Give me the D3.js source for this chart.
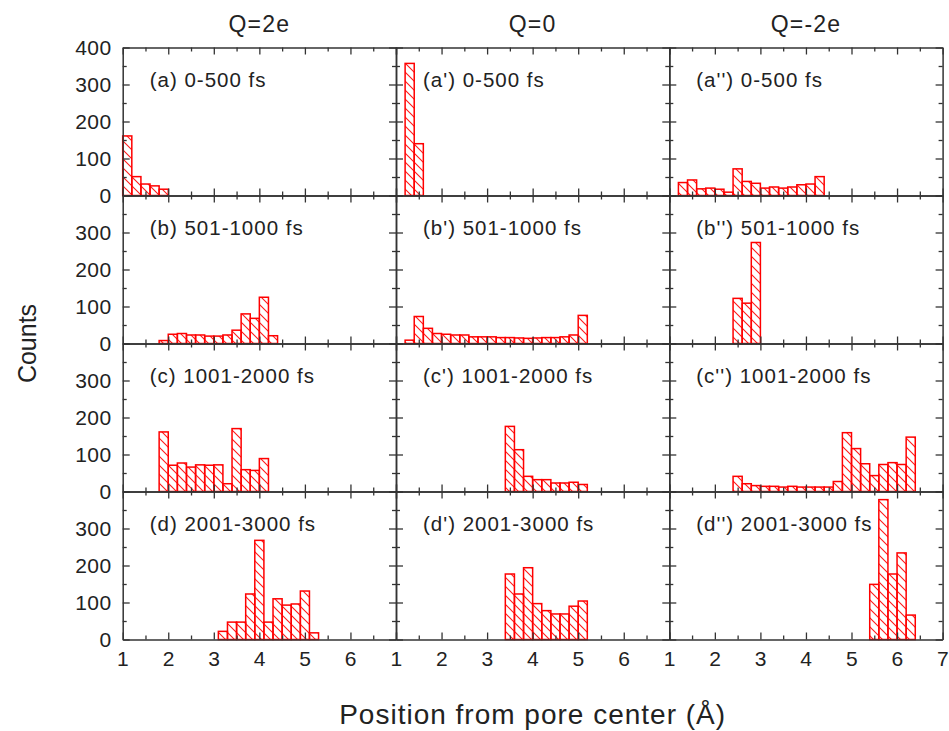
<!DOCTYPE html>
<html>
<head>
<meta charset="utf-8">
<script src="https://cdn.jsdelivr.net/npm/d3@7"></script>
<style>
  body { margin: 0; background: #fff; }
  text { font-family: Arial, "Liberation Sans", sans-serif; fill: #222; }
  .frame path.domain { stroke: #333; stroke-width: 1.5; }
  .frame line { stroke: #333; stroke-width: 1.3; }
  .frame text { font-size: 21px; letter-spacing: 0.5px; }
</style>
</head>
<body>
<div id="chart"></div>
<script>
// column headers and row labels
var colTitles = ["Q=2e", "Q=0", "Q=-2e"];
var rowTimes = ["0-500 fs", "501-1000 fs", "1001-2000 fs", "2001-3000 fs"];
var rowLetters = ["a", "b", "c", "d"];
var primes = ["", "'", "''"];

// histogram bin width (Å) and the left edge of the first bin in each panel
var binWidth = 0.2;
var binStarts = [
  [1.0, 1.2, 1.2],
  [1.8, 1.2, 2.4],
  [1.8, 3.4, 2.4],
  [3.1, 3.4, 5.4]
];

// counts, one array per panel
var countsA  = [161, 51, 31, 26, 17];
var countsA1 = [357, 140];
var countsA2 = [35, 42, 18, 20, 17, 9, 72, 38, 33, 20, 23, 20, 23, 29, 31, 51];
var countsB  = [8, 25, 27, 23, 23, 20, 20, 23, 36, 80, 68, 125, 21];
var countsB1 = [9, 73, 41, 27, 25, 23, 23, 18, 18, 18, 16, 16, 15, 14, 15, 16, 16, 18, 23, 76];
var countsB2 = [122, 109, 273];
var countsC  = [161, 71, 77, 66, 72, 71, 72, 21, 170, 59, 57, 89];
var countsC1 = [176, 113, 41, 32, 32, 23, 23, 25, 19];
var countsC2 = [41, 21, 16, 14, 14, 12, 14, 12, 12, 12, 12, 27, 159, 116, 75, 43, 73, 78, 73, 147];
var countsD  = [22, 47, 47, 123, 268, 47, 110, 93, 96, 131, 18];
var countsD1 = [177, 123, 194, 97, 78, 69, 69, 90, 104];
var countsD2 = [149, 378, 177, 234, 66];

var panelCounts = [
  [countsA, countsA1, countsA2],
  [countsB, countsB1, countsB2],
  [countsC, countsC1, countsC2],
  [countsD, countsD1, countsD2]
];

// tick values
var xMajor = [1, 2, 3, 4, 5, 6, 7];
var xMinor = [1.5, 2.5, 3.5, 4.5, 5.5, 6.5];
var yMajor = [0, 100, 200, 300, 400];
var yMinor = [50, 150, 250, 350];

// layout
var width = 949, height = 731;
var plotLeft = 122.7, plotTop = 47.5;
var colW = 273.3, rowH = 148;

var svg = d3.select("#chart").append("svg")
  .attr("width", width)
  .attr("height", height);

// diagonal hatch fill
var pat = svg.append("defs").append("pattern")
  .attr("id", "hatch")
  .attr("patternUnits", "userSpaceOnUse")
  .attr("width", 9)
  .attr("height", 9);
pat.append("path")
  .attr("d", "M0,0 L9,9 M-2,7 L2,11 M7,-2 L11,2")
  .attr("stroke", "#ff1a1a")
  .attr("stroke-width", 1.1);

rowTimes.forEach(function(time, r) {
  colTitles.forEach(function(title, c) {
    var x = d3.scaleLinear().domain([1, 7]).range([plotLeft + c * colW, plotLeft + (c + 1) * colW]);
    var y = d3.scaleLinear().domain([0, 400]).range([plotTop + (r + 1) * rowH, plotTop + r * rowH]);

    var g = svg.append("g");

    // bars
    var start = binStarts[r][c];
    var bins = panelCounts[r][c].map(function(v, i) {
      return { x0: start + i * binWidth, x1: start + (i + 1) * binWidth, value: v };
    });

    g.selectAll(".bar")
      .data(bins)
      .enter().append("rect")
      .attr("class", "bar")
      .attr("x", function(d) { return x(d.x0); })
      .attr("width", function(d) { return x(d.x1) - x(d.x0); })
      .attr("y", function(d) { return y(d.value); })
      .attr("height", function(d) { return y(0) - y(d.value); })
      .attr("fill", "url(#hatch)")
      .attr("stroke", "#ff0000")
      .attr("stroke-width", 1.5);

    // frame: ticks point inward on all four sides
    var x0 = x.range()[0], x1 = x.range()[1];
    var yb = y.range()[0], yt = y.range()[1];

    var yLabels = r === 0 ? yMajor : yMajor.slice(0, 4);
    var xLabels = c === 2 ? xMajor : xMajor.slice(0, 6);

    g.append("g").attr("class", "frame")
      .attr("transform", "translate(" + x0 + ",0)")
      .call(d3.axisLeft(y).tickValues(yMajor).tickSize(-7).tickSizeOuter(0).tickPadding(11)
        .tickFormat(function(d) { return (c === 0 && yLabels.indexOf(d) >= 0) ? d : ""; }));
    g.append("g").attr("class", "frame")
      .attr("transform", "translate(" + x0 + ",0)")
      .call(d3.axisLeft(y).tickValues(yMinor).tickSize(-4).tickFormat(""))
      .select(".domain").remove();

    g.append("g").attr("class", "frame")
      .attr("transform", "translate(" + x1 + ",0)")
      .call(d3.axisRight(y).tickValues(yMajor).tickSize(-7).tickSizeOuter(0).tickFormat(""));
    g.append("g").attr("class", "frame")
      .attr("transform", "translate(" + x1 + ",0)")
      .call(d3.axisRight(y).tickValues(yMinor).tickSize(-4).tickFormat(""))
      .select(".domain").remove();

    g.append("g").attr("class", "frame")
      .attr("transform", "translate(0," + yt + ")")
      .call(d3.axisTop(x).tickValues(xMajor).tickSize(-7).tickSizeOuter(0).tickFormat(""));
    g.append("g").attr("class", "frame")
      .attr("transform", "translate(0," + yt + ")")
      .call(d3.axisTop(x).tickValues(xMinor).tickSize(-4).tickFormat(""))
      .select(".domain").remove();

    g.append("g").attr("class", "frame")
      .attr("transform", "translate(0," + yb + ")")
      .call(d3.axisBottom(x).tickValues(xMajor).tickSize(-7).tickSizeOuter(0).tickPadding(12)
        .tickFormat(function(d) { return (r === 3 && xLabels.indexOf(d) >= 0) ? d : ""; }));
    g.append("g").attr("class", "frame")
      .attr("transform", "translate(0," + yb + ")")
      .call(d3.axisBottom(x).tickValues(xMinor).tickSize(-4).tickFormat(""))
      .select(".domain").remove();

    // panel label
    g.append("text")
      .attr("x", x0 + 27)
      .attr("y", yt + 39)
      .attr("font-size", 20.5)
      .attr("letter-spacing", 1)
      .text("(" + rowLetters[r] + primes[c] + ") " + time);

    // column title
    if (r === 0) {
      svg.append("text")
        .attr("x", (x0 + x1) / 2)
        .attr("y", 32)
        .attr("text-anchor", "middle")
        .attr("font-size", 23)
        .attr("letter-spacing", 1.2)
        .text(title);
    }
  });
});

// axis titles
svg.append("text")
  .attr("transform", "translate(36," + (plotTop + 2 * rowH) + ") rotate(-90)")
  .attr("text-anchor", "middle")
  .attr("font-size", 25)
  .text("Counts");

svg.append("text")
  .attr("x", plotLeft + 1.5 * colW)
  .attr("y", 724)
  .attr("text-anchor", "middle")
  .attr("font-size", 28)
  .attr("letter-spacing", 1)
  .text("Position from pore center (Å)");
</script>
</body>
</html>
